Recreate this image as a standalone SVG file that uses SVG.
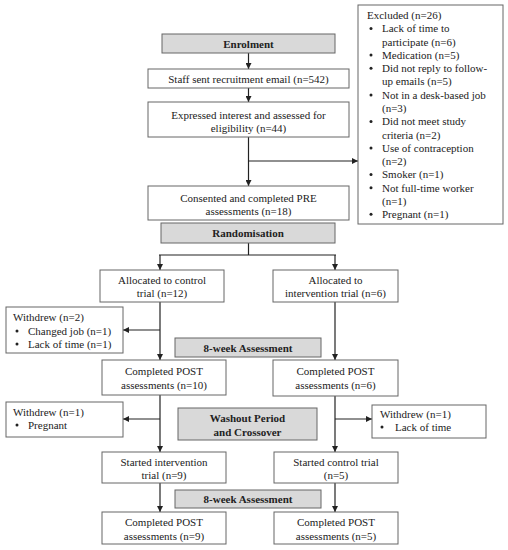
<svg xmlns="http://www.w3.org/2000/svg" width="508" height="550" viewBox="0 0 508 550">
<style>
.box{fill:#fff;stroke:#666;stroke-width:1}
.hdr{fill:#d9d9d9;stroke:#666;stroke-width:1}
text{font-family:"Liberation Serif","Times New Roman",serif;font-size:11px;fill:#222}
.c{text-anchor:middle}
.b{font-weight:bold}
.ln{fill:none;stroke:#222;stroke-width:1.2}
.arr{fill:none;stroke:#222;stroke-width:1.2;marker-end:url(#ah)}
.dot{fill:#222}
</style>
<defs>
<marker id="ah" viewBox="0 0 10 10" refX="10" refY="5" markerWidth="6" markerHeight="6" markerUnits="userSpaceOnUse" orient="auto">
<path d="M0,0 L10,5 L0,10 z" fill="#222"/>
</marker>
</defs>
<rect width="508" height="550" fill="#fff"/>
<g id="connectors">
<line class="arr" x1="248.5" y1="53" x2="248.5" y2="69"/>
<line class="arr" x1="248.5" y1="88" x2="248.5" y2="102"/>
<line class="arr" x1="248.5" y1="137" x2="248.5" y2="186"/>
<line class="arr" x1="248.5" y1="161" x2="358" y2="161"/>
<line class="ln" x1="248.5" y1="243" x2="248.5" y2="255"/>
<line class="ln" x1="159" y1="255" x2="336" y2="255"/>
<line class="arr" x1="160" y1="255" x2="160" y2="270"/>
<line class="arr" x1="335" y1="255" x2="335" y2="270"/>
<line class="arr" x1="160" y1="302" x2="160" y2="360"/>
<line class="arr" x1="160" y1="330" x2="123" y2="330"/>
<line class="arr" x1="335" y1="302" x2="335" y2="360"/>
<line class="arr" x1="160" y1="395" x2="160" y2="452"/>
<line class="arr" x1="160" y1="419" x2="123" y2="419"/>
<line class="arr" x1="335" y1="396" x2="335" y2="452"/>
<line class="arr" x1="335" y1="419" x2="372" y2="419"/>
<line class="arr" x1="160" y1="483" x2="160" y2="512"/>
<line class="arr" x1="335" y1="483" x2="335" y2="512"/>
</g>
<g id="enrolment">
<rect class="hdr" x="162" y="34" width="173" height="19"/>
<text class="c b" x="248.5" y="47.5">Enrolment</text>
</g>
<g id="staff">
<rect class="box" x="148" y="69" width="201" height="19"/>
<text class="c" x="248.5" y="82.5">Staff sent recruitment email (n=542)</text>
</g>
<g id="expressed">
<rect class="box" x="148" y="102" width="201" height="35"/>
<text class="c" x="248.5" y="118.5">Expressed interest and assessed for</text>
<text class="c" x="248.5" y="131.5">eligibility (n=44)</text>
</g>
<g id="excluded">
<rect class="box" x="358" y="5" width="145" height="219"/>
<text x="367" y="19">Excluded (n=26)</text>
<g>
<circle class="dot" cx="371" cy="28.5" r="1.5"/>
<circle class="dot" cx="371" cy="55" r="1.5"/>
<circle class="dot" cx="371" cy="68.3" r="1.5"/>
<circle class="dot" cx="371" cy="94.9" r="1.5"/>
<circle class="dot" cx="371" cy="121.4" r="1.5"/>
<circle class="dot" cx="371" cy="148" r="1.5"/>
<circle class="dot" cx="371" cy="174.5" r="1.5"/>
<circle class="dot" cx="371" cy="187.8" r="1.5"/>
<circle class="dot" cx="371" cy="214.3" r="1.5"/>
</g>
<text x="382" y="32.3">Lack of time to</text>
<text x="382" y="45.5">participate (n=6)</text>
<text x="382" y="58.8">Medication (n=5)</text>
<text x="382" y="72.1">Did not reply to follow-</text>
<text x="382" y="85.4">up emails (n=5)</text>
<text x="382" y="98.7">Not in a desk-based job</text>
<text x="382" y="111.9">(n=3)</text>
<text x="382" y="125.2">Did not meet study</text>
<text x="382" y="138.5">criteria (n=2)</text>
<text x="382" y="151.8">Use of contraception</text>
<text x="382" y="165.1">(n=2)</text>
<text x="382" y="178.3">Smoker (n=1)</text>
<text x="382" y="191.6">Not full-time worker</text>
<text x="382" y="204.9">(n=1)</text>
<text x="382" y="218.2">Pregnant (n=1)</text>
</g>
<g id="consented">
<rect class="box" x="148" y="186" width="201" height="34"/>
<text class="c" x="248.5" y="201.5">Consented and completed PRE</text>
<text class="c" x="248.5" y="214.5">assessments (n=18)</text>
</g>
<g id="randomisation">
<rect class="hdr" x="161" y="223" width="174" height="20"/>
<text class="c b" x="248" y="237">Randomisation</text>
</g>
<g id="alloc-control">
<rect class="box" x="100" y="270" width="124" height="32"/>
<text class="c" x="162" y="284">Allocated to control</text>
<text class="c" x="162" y="297">trial (n=12)</text>
</g>
<g id="alloc-intervention">
<rect class="box" x="273" y="270" width="125" height="32"/>
<text class="c" x="335.5" y="284">Allocated to</text>
<text class="c" x="335.5" y="297">intervention trial (n=6)</text>
</g>
<g id="withdrew-2">
<rect class="box" x="6" y="307" width="117" height="46"/>
<text x="13" y="321">Withdrew (n=2)</text>
<circle class="dot" cx="17" cy="331" r="1.5"/>
<circle class="dot" cx="17" cy="344" r="1.5"/>
<text x="28" y="335">Changed job (n=1)</text>
<text x="28" y="348">Lack of time (n=1)</text>
</g>
<g id="assess-1">
<rect class="hdr" x="175" y="338" width="146" height="19"/>
<text class="c b" x="248" y="351.5">8-week Assessment</text>
</g>
<g id="post-10">
<rect class="box" x="102" y="360" width="124" height="35"/>
<text class="c" x="164" y="375">Completed POST</text>
<text class="c" x="164" y="389">assessments (n=10)</text>
</g>
<g id="post-6">
<rect class="box" x="273" y="360" width="125" height="36"/>
<text class="c" x="335.5" y="375">Completed POST</text>
<text class="c" x="335.5" y="389">assessments (n=6)</text>
</g>
<g id="withdrew-1-left">
<rect class="box" x="6" y="402" width="117" height="35"/>
<text x="13" y="416">Withdrew (n=1)</text>
<circle class="dot" cx="17" cy="425" r="1.5"/>
<text x="28" y="429">Pregnant</text>
</g>
<g id="washout">
<rect class="hdr" x="178" y="408" width="139" height="32"/>
<text class="c b" x="247.5" y="422">Washout Period</text>
<text class="c b" x="247.5" y="436">and Crossover</text>
</g>
<g id="withdrew-1-right">
<rect class="box" x="372" y="405" width="114" height="33"/>
<text x="380" y="418">Withdrew (n=1)</text>
<circle class="dot" cx="382" cy="427" r="1.5"/>
<text x="395" y="431">Lack of time</text>
</g>
<g id="started-intervention">
<rect class="box" x="102" y="452" width="124" height="31"/>
<text class="c" x="164" y="466">Started intervention</text>
<text class="c" x="164" y="479">trial (n=9)</text>
</g>
<g id="started-control">
<rect class="box" x="274" y="452" width="124" height="31"/>
<text class="c" x="336" y="466">Started control trial</text>
<text class="c" x="336" y="479">(n=5)</text>
</g>
<g id="assess-2">
<rect class="hdr" x="175" y="490" width="146" height="18"/>
<text class="c b" x="248" y="503">8-week Assessment</text>
</g>
<g id="post-9">
<rect class="box" x="102" y="512" width="124" height="32"/>
<text class="c" x="164" y="526">Completed POST</text>
<text class="c" x="164" y="540">assessments (n=9)</text>
</g>
<g id="post-5">
<rect class="box" x="274" y="512" width="124" height="32"/>
<text class="c" x="336" y="526">Completed POST</text>
<text class="c" x="336" y="540">assessments (n=5)</text>
</g>
</svg>
